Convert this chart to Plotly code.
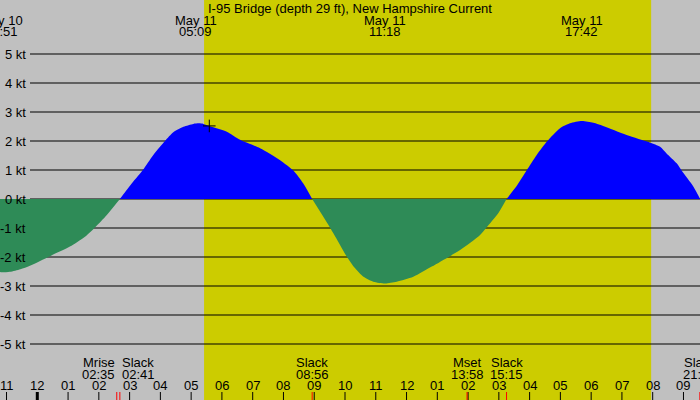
import plotly.graph_objects as go

# =========================
# Data (hours from May 11 00:00, speed in knots)
# =========================
hours = [-1.22, -1.15, -0.89, -0.55, -0.24, 0.41, 1.06, 1.55, 1.875, 2.26, 2.683,
         3.12, 3.43, 3.77, 4.15, 4.42, 4.75, 5.07, 5.25, 5.40, 5.61, 6.16, 6.59, 7.24, 7.89, 8.32, 8.64, 8.933,
         9.51, 9.78, 10.05, 10.33, 10.6, 10.92, 11.3, 11.68, 12.22, 12.82, 13.41, 13.74, 14.39, 14.6, 14.98, 15.25,
         15.6, 15.9, 16.23, 16.57, 16.99, 17.31, 17.7, 18.07, 18.39, 19.15, 19.91, 20.24, 20.45, 20.78, 20.94, 21.32, 21.54]
speed = [-2.52, -2.53, -2.51, -2.42, -2.30, -1.97, -1.64, -1.30, -0.98, -0.55, 0.0,
         0.60, 1.0, 1.52, 2.0, 2.30, 2.49, 2.59, 2.61, 2.59, 2.51, 2.32, 2.04, 1.75, 1.34, 0.98, 0.54, 0.0,
         -0.98, -1.47, -1.97, -2.39, -2.68, -2.85, -2.91, -2.85, -2.68, -2.33, -1.97, -1.76, -1.24, -0.98, -0.49, 0.0,
         0.48, 0.98, 1.52, 1.99, 2.44, 2.61, 2.69, 2.63, 2.52, 2.21, 1.95, 1.80, 1.57, 1.23, 0.98, 0.43, 0.0]

kt_levels = [5, 4, 3, 2, 1, 0, -1, -2, -3, -4, -5]

hour_ticks = list(range(-1, 22))
hour_labels = ["11", "12", "01", "02", "03", "04", "05", "06", "07", "08", "09", "10",
               "11", "12", "01", "02", "03", "04", "05", "06", "07", "08", "09"]

peak_hours = [-1.15, 5.15, 11.3, 17.7]
peak_dates = ["May 10", "May 11", "May 11", "May 11"]
peak_times = ["22:51", "05:09", "11:18", "17:42"]

event_hours = [2.583, 2.683, 8.933, 13.967, 15.25, 21.533]
event_names = ["Mrise", "Slack", "Slack", "Mset", "Slack", "Slack"]
event_times = ["02:35", "02:41", "08:56", "13:58", "15:15", "21:32"]

sunrise = 5.42
sunset = 19.95

now_hour = 5.59
now_speed = 2.52

title = "I-95 Bridge (depth 29 ft), New Hampshire Current"

# =========================
# Figure
# =========================
W, H = 700, 400
GRAY = "#C0C0C0"
DAY = "#CCCC00"
FLOOD = "#0000FF"
EBB = "#2E8B57"
FONT = "Liberation Sans"


def py(px):
    # pixel row -> paper y
    return 1 - px / H


fig = go.Figure()

# split the curve into flood / ebb pieces at the slack points
segments = []
cur_x, cur_y = [], []
for h, v in zip(hours, speed):
    cur_x.append(h)
    cur_y.append(v)
    if v == 0 and len(cur_x) > 1:
        segments.append((cur_x, cur_y))
        cur_x, cur_y = [h], [v]
if len(cur_x) > 1:
    segments.append((cur_x, cur_y))

for sx, sy in segments:
    color = FLOOD if sum(sy) > 0 else EBB
    fig.add_trace(go.Scatter(
        x=sx, y=sy, mode="lines", fill="tozeroy",
        line=dict(color=color, width=0, shape="spline", smoothing=0.7),
        fillcolor=color, hoverinfo="skip", showlegend=False
    ))

fig.add_trace(go.Scatter(
    x=[now_hour], y=[now_speed], mode="markers",
    marker=dict(symbol="cross-thin", size=9, line=dict(color="black", width=1)),
    hoverinfo="skip", showlegend=False
))

shapes = []
annotations = []

# day band
shapes.append(dict(type="rect", xref="x", yref="paper", x0=sunrise, x1=sunset, y0=0, y1=1,
                   fillcolor=DAY, line_width=0, layer="below"))

# kt grid lines + labels
for k in kt_levels:
    shapes.append(dict(type="line", xref="paper", yref="y", x0=30 / W, x1=1, y0=k, y1=k,
                       line=dict(color="black", width=1), layer="below"))
    annotations.append(dict(xref="paper", yref="y", x=28 / W, y=k, text=f"{k} kt",
                            xanchor="right", yanchor="middle", showarrow=False))

# hour ticks and labels
for h, lab in zip(hour_ticks, hour_labels):
    shapes.append(dict(type="line", xref="x", yref="paper", x0=h, x1=h, y0=0, y1=8 / H,
                       line=dict(color="black", width=3 if h == 0 else 1)))
    annotations.append(dict(xref="x", yref="paper", x=h, y=py(385.5), text=lab,
                            xanchor="center", yanchor="middle", showarrow=False))

# events (slack, moon rise/set)
for i, (h, name, t) in enumerate(zip(event_hours, event_names, event_times)):
    shapes.append(dict(type="line", xref="x", yref="paper", x0=h, x1=h, y0=0, y1=8 / H,
                       line=dict(color="red", width=1)))
    anchor = "center"
    if i + 1 < len(event_hours) and event_hours[i + 1] - h < 0.5:
        anchor = "right"
    elif i > 0 and h - event_hours[i - 1] < 0.5:
        anchor = "left"
    annotations.append(dict(xref="x", yref="paper", x=h, y=py(362), text=name,
                            xanchor=anchor, yanchor="middle", showarrow=False))
    annotations.append(dict(xref="x", yref="paper", x=h, y=py(374), text=t,
                            xanchor=anchor, yanchor="middle", showarrow=False))

# max flood / ebb labels
for h, d, t in zip(peak_hours, peak_dates, peak_times):
    annotations.append(dict(xref="x", yref="paper", x=h, y=py(20), text=d,
                            xanchor="center", yanchor="middle", showarrow=False))
    annotations.append(dict(xref="x", yref="paper", x=h, y=py(32), text=t,
                            xanchor="center", yanchor="middle", showarrow=False))

annotations.append(dict(xref="paper", yref="paper", x=0.5, y=py(8), text=title,
                        xanchor="center", yanchor="middle", showarrow=False))

x0 = -37.3 / 30.77
x1 = (W - 37.3) / 30.77
y1 = 199 / 29
y0 = -(H - 199) / 29

fig.update_layout(
    width=W, height=H,
    margin=dict(l=0, r=0, t=0, b=0),
    paper_bgcolor=GRAY, plot_bgcolor=GRAY,
    font=dict(family=FONT, size=13, color="black"),
    xaxis=dict(range=[x0, x1], visible=False, fixedrange=True),
    yaxis=dict(range=[y0, y1], visible=False, fixedrange=True),
    shapes=shapes,
    annotations=annotations,
    showlegend=False,
)

# page has a default 8px body margin; drop it so the chart fills the window
fig.write_html(
    "out.html",
    config={"displayModeBar": False},
    post_script="document.body.style.margin='0';document.body.style.overflow='hidden';",
)
